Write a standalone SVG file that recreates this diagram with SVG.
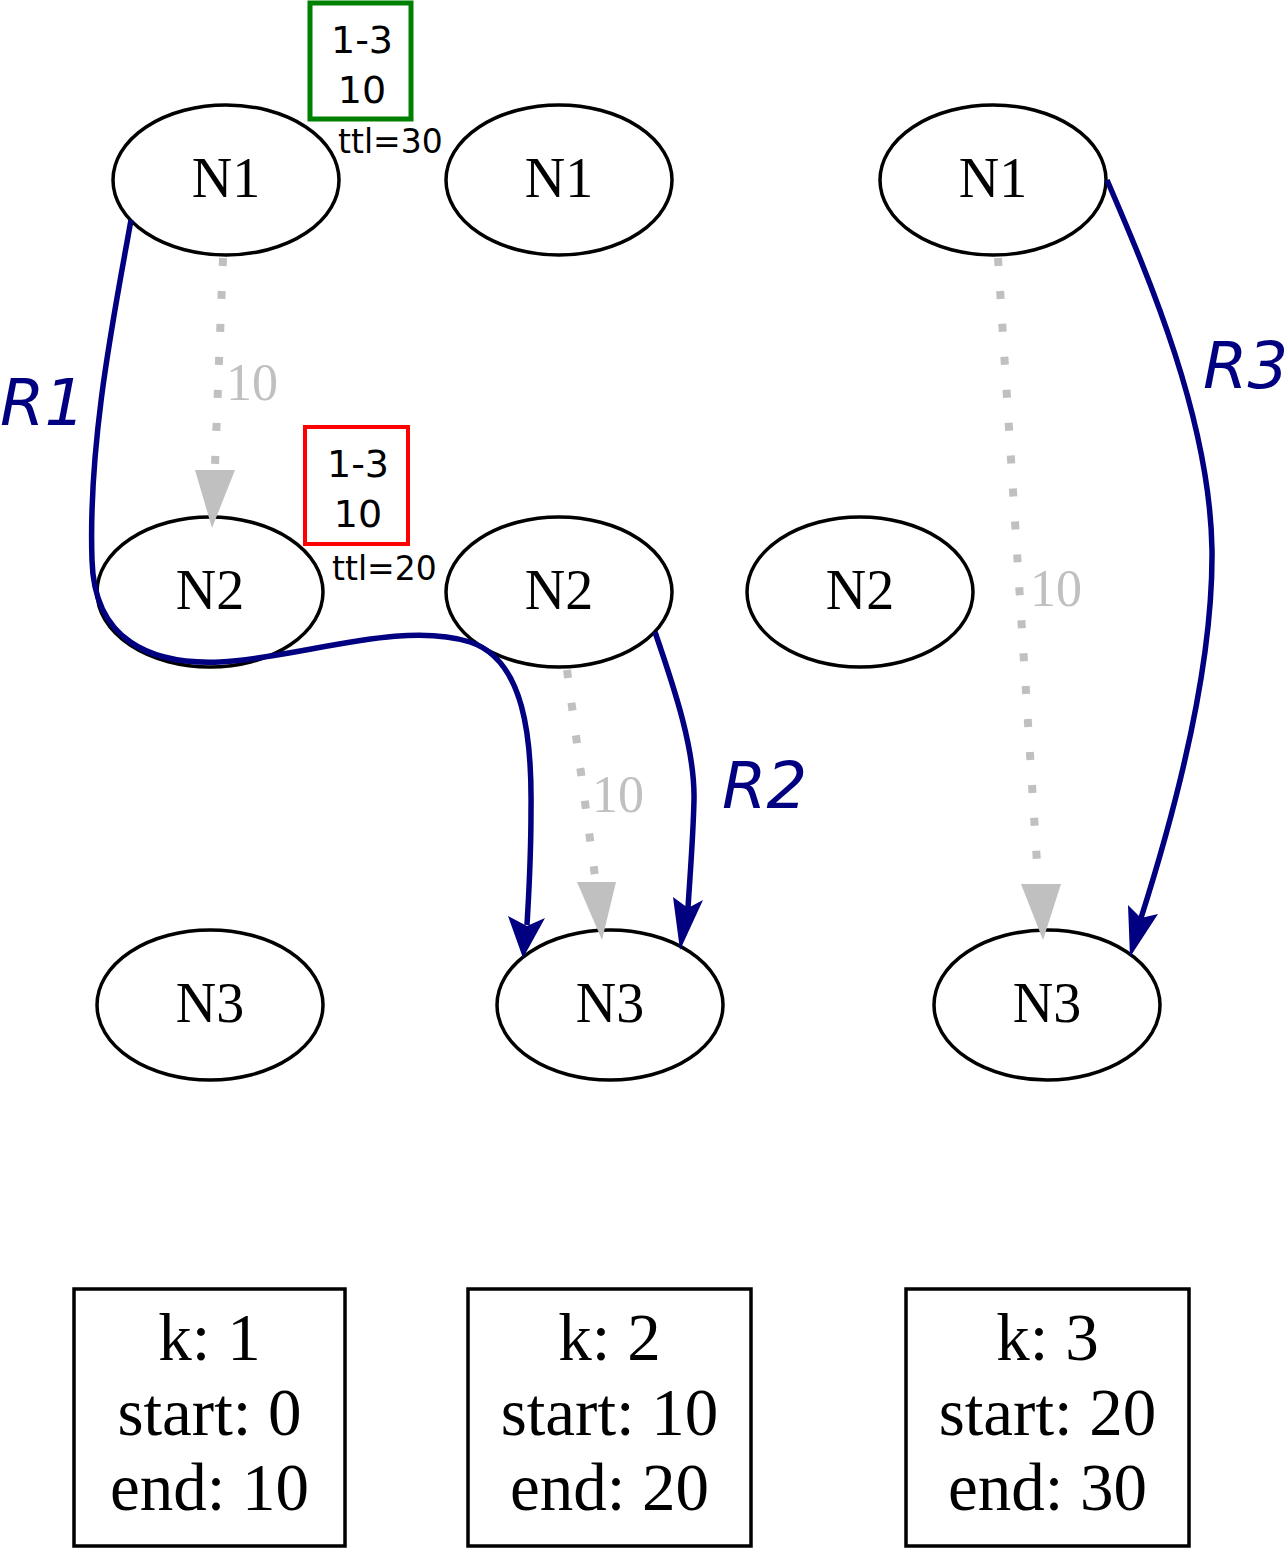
<svg xmlns="http://www.w3.org/2000/svg" width="1287" height="1549" viewBox="0 0 1287 1549">
<style>
.node ellipse{fill:#fff;stroke:#000;stroke-width:3.5}
.nl{font-family:"Liberation Serif",serif;font-size:56px;text-anchor:middle;fill:#000}
.bx{fill:#fff;stroke:#000;stroke-width:3.5}
.bt{font-family:"Liberation Serif",serif;font-size:67px;text-anchor:middle;fill:#000}
.dot{fill:none;stroke:#c0c0c0;stroke-width:8;stroke-dasharray:8 25}
.gh{fill:#c0c0c0}
.gl{font-family:"Liberation Serif",serif;font-size:52px;fill:#c0c0c0}
.route{fill:none;stroke:#000080;stroke-width:5.5}
.bh{fill:#000080}
.rl{font-family:"DejaVu Sans",sans-serif;font-style:italic;font-size:64px;fill:#000080}
.st{font-family:"DejaVu Sans",sans-serif;font-size:38px;text-anchor:middle;fill:#000}
.ttl{font-family:"DejaVu Sans",sans-serif;font-size:33px;fill:#000}
</style>

<g id="n1a" class="node"><ellipse cx="226" cy="180" rx="113" ry="75"/><text class="nl" x="226" y="197">N1</text></g>
<g id="n1b" class="node"><ellipse cx="559" cy="180" rx="113" ry="75"/><text class="nl" x="559" y="197">N1</text></g>
<g id="n1c" class="node"><ellipse cx="993" cy="180" rx="113" ry="75"/><text class="nl" x="993" y="197">N1</text></g>
<g id="n2a" class="node"><ellipse cx="210" cy="592" rx="113" ry="75"/><text class="nl" x="210" y="609">N2</text></g>
<g id="n2b" class="node"><ellipse cx="559" cy="592" rx="113" ry="75"/><text class="nl" x="559" y="609">N2</text></g>
<g id="n2c" class="node"><ellipse cx="860" cy="592" rx="113" ry="75"/><text class="nl" x="860" y="609">N2</text></g>
<g id="n3a" class="node"><ellipse cx="210" cy="1005" rx="113" ry="75"/><text class="nl" x="210" y="1022">N3</text></g>
<g id="n3b" class="node"><ellipse cx="610" cy="1005" rx="113" ry="75"/><text class="nl" x="610" y="1022">N3</text></g>
<g id="n3c" class="node"><ellipse cx="1047" cy="1005" rx="113" ry="75"/><text class="nl" x="1047" y="1022">N3</text></g>

<g id="connectors">
  <path class="dot" d="M223,258 L215,465"/>
  <polygon class="gh" points="195,470 235,470 212,528"/>
  <text class="gl" x="226" y="400">10</text>

  <path class="dot" d="M567,670 L595,876"/>
  <polygon class="gh" points="577,882 616,882 602,940"/>
  <text class="gl" x="592" y="812">10</text>

  <path class="dot" d="M998,258 L1038,878"/>
  <polygon class="gh" points="1021,884 1061,884 1043,940"/>
  <text class="gl" x="1030" y="606">10</text>

  <path class="route" d="M131,220 C115,310 88,440 92,560 C94,640 150,665 220,662 C300,658 400,620 470,642 C525,660 532,740 531,810 C531,860 529,890 527,925"/>
  <polygon class="bh" points="508,916 527,926 545,918 523,958"/>
  <text class="rl" x="0" y="425">R1</text>

  <path class="route" d="M655,632 C675,690 695,750 694,800 C693,840 690,875 688,908"/>
  <polygon class="bh" points="673,897 688,908 703,900 680,950"/>
  <text class="rl" x="722" y="808">R2</text>

  <path class="route" d="M1107,180 C1150,280 1210,420 1212,550 C1213,650 1185,780 1141,918"/>
  <polygon class="bh" points="1128,905 1141,918 1158,914 1130,957"/>
  <text class="rl" x="1203" y="388">R3</text>
</g>

<g id="tag-green">
  <rect x="310" y="3" width="101" height="116" fill="#fff" stroke="#008000" stroke-width="5"/>
  <text class="st" x="362" y="53">1-3</text>
  <text class="st" x="362" y="103">10</text>
  <text class="ttl" x="338" y="153">ttl=30</text>
</g>
<g id="tag-red">
  <rect x="305" y="427" width="103" height="117" fill="#fff" stroke="#ff0000" stroke-width="4"/>
  <text class="st" x="358" y="477">1-3</text>
  <text class="st" x="358" y="527">10</text>
  <text class="ttl" x="332" y="580">ttl=20</text>
</g>

<g id="k1">
  <rect class="bx" x="74" y="1289" width="271" height="257"/>
  <text class="bt" x="209.5" y="1360">k: 1</text>
  <text class="bt" x="209.5" y="1435">start: 0</text>
  <text class="bt" x="209.5" y="1510">end: 10</text>
</g>
<g id="k2">
  <rect class="bx" x="468" y="1289" width="283" height="257"/>
  <text class="bt" x="609.5" y="1360">k: 2</text>
  <text class="bt" x="609.5" y="1435">start: 10</text>
  <text class="bt" x="609.5" y="1510">end: 20</text>
</g>
<g id="k3">
  <rect class="bx" x="906" y="1289" width="283" height="257"/>
  <text class="bt" x="1047.5" y="1360">k: 3</text>
  <text class="bt" x="1047.5" y="1435">start: 20</text>
  <text class="bt" x="1047.5" y="1510">end: 30</text>
</g>
</svg>
